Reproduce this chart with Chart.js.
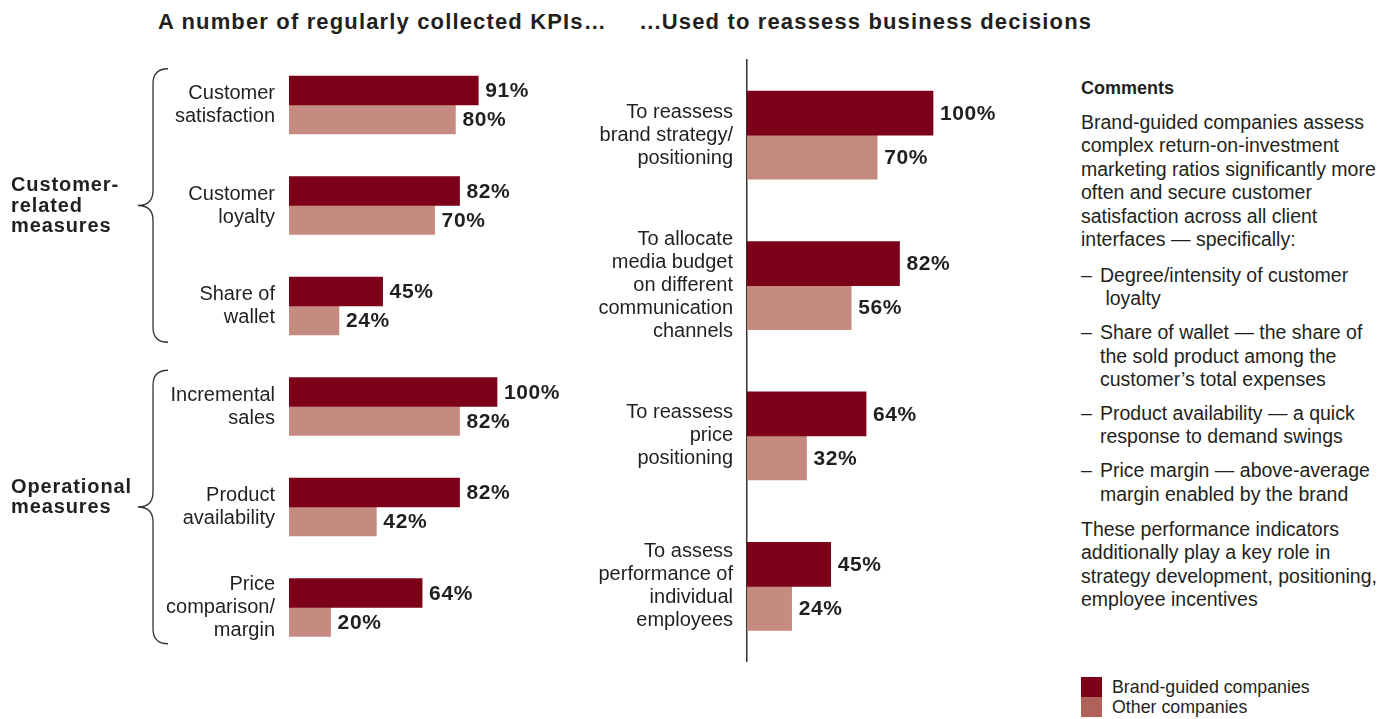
<!DOCTYPE html>
<html>
<head>
<meta charset="utf-8">
<script src="https://cdn.jsdelivr.net/npm/chart.js@4.4.0/dist/chart.umd.min.js"></script>
<style>
  body { margin: 0; width: 1399px; height: 719px; background: #fff; position: relative; overflow: hidden;
         font-family: "Liberation Sans", Arial, sans-serif; color: #231f20; }
  .title { position: absolute; top: 9px; font-weight: bold; font-size: 22px; letter-spacing: 1.15px; white-space: nowrap; }
  #leftBox { position: absolute; left: 0; top: 0; width: 590px; height: 719px; }
  #rightBox { position: absolute; left: 590px; top: 0; width: 470px; height: 719px; }
  #comments { position: absolute; left: 1081px; top: 77px; font-size: 19.5px; line-height: 23.4px; white-space: nowrap; }
  #comments .head { font-weight: bold; font-size: 18px; margin-bottom: 10.5px; }
  #comments .gap { margin-top: 12px; }
  #comments .bullet { display: flex; margin-top: 10.5px; }
  #comments .bullet.gap { margin-top: 12.5px; }
  #comments .bullet span:first-child { width: 19px; flex: none; }
  #legend { position: absolute; left: 1081px; top: 677px; font-size: 17.8px; }
  #legend .item { display: flex; align-items: center; height: 20px; }
  #legend .sw { width: 21px; height: 20px; margin-right: 10px; }
</style>
</head>
<body>
<div class="title" style="left:158px">A number of regularly collected KPIs…</div>
<div class="title" style="left:640px">...Used to reassess business decisions</div>
<div id="leftBox"><canvas id="kpiChart"></canvas></div>
<div id="rightBox"><canvas id="useChart"></canvas></div>
<div id="comments">
  <div class="head">Comments</div>
  <div>Brand-guided companies assess<br>complex return-on-investment<br>marketing ratios significantly more<br>often and secure customer<br>satisfaction across all client<br>interfaces — specifically:</div>
  <div class="bullet gap"><span>–</span><span>Degree/intensity of customer<br>&nbsp;loyalty</span></div>
  <div class="bullet"><span>–</span><span>Share of wallet — the share of<br>the sold product among the<br>customer’s total expenses</span></div>
  <div class="bullet"><span>–</span><span>Product availability — a quick<br>response to demand swings</span></div>
  <div class="bullet"><span>–</span><span>Price margin — above-average<br>margin enabled by the brand</span></div>
  <div class="gap">These performance indicators<br>additionally play a key role in<br>strategy development, positioning,<br>employee incentives</div>
</div>
<div id="legend"></div>
<script>
// left panel: KPIs collected
const kpiLabels = [['Customer', 'satisfaction'], ['Customer', 'loyalty'], ['Share of', 'wallet'],
                   ['Incremental', 'sales'], ['Product', 'availability'], ['Price', 'comparison/', 'margin']];
const kpiBrand = [91, 82, 45, 100, 82, 64];
const kpiOther = [80, 70, 24, 82, 42, 20];

// groups of KPIs shown with braces
const groupNames = [['Customer-', 'related', 'measures'], ['Operational', 'measures']];
const groupSizes = [3, 3];

// right panel: usage in decisions
const useLabels = [['To reassess', 'brand strategy/', 'positioning'],
                   ['To allocate', 'media budget', 'on different', 'communication', 'channels'],
                   ['To reassess', 'price', 'positioning'],
                   ['To assess', 'performance of', 'individual', 'employees']];
const useBrand = [100, 82, 64, 45];
const useOther = [70, 56, 32, 24];

const seriesNames = ['Brand-guided companies', 'Other companies'];
const barColors = ['#7d0019', '#c68b80'];
const legendColors = ['#7d0019', '#b0625a'];

const FONT = '"Liberation Sans", Arial, sans-serif';
const TEXT = '#231f20';

// percentage labels at the bar ends
const valueLabels = {
    id: 'valueLabels',
    afterDatasetsDraw(chart) {
        const ctx = chart.ctx;
        ctx.save();
        ctx.font = 'bold 21px ' + FONT;
        ctx.letterSpacing = '0.6px';
        ctx.fillStyle = TEXT;
        ctx.textAlign = 'left';
        ctx.textBaseline = 'middle';
        chart.data.datasets.forEach((ds, i) => {
            chart.getDatasetMeta(i).data.forEach((bar, j) => {
                ctx.fillText(ds.data[j] + '%', bar.x + 7, bar.y + 1);
            });
        });
        ctx.restore();
    }
};

// curly braces + group names on the left panel
const groupBraces = {
    id: 'groupBraces',
    afterDraw(chart) {
        const y = chart.scales.y;
        const ctx = chart.ctx;
        const step = y.getPixelForValue(1) - y.getPixelForValue(0);
        let start = 0;
        ctx.save();
        ctx.strokeStyle = '#333';
        ctx.lineWidth = 1.3;
        groupSizes.forEach((n, g) => {
            const first = y.getPixelForValue(start);
            const last = y.getPixelForValue(start + n - 1);
            const top = first - step / 2 + 14;
            const bot = last + step / 2 - 14;
            const mid = (first + last) / 2;
            ctx.beginPath();
            ctx.moveTo(168, top);
            ctx.quadraticCurveTo(153, top, 153, top + 15);
            ctx.lineTo(153, mid - 15);
            ctx.quadraticCurveTo(153, mid, 138, mid);
            ctx.quadraticCurveTo(153, mid, 153, mid + 15);
            ctx.lineTo(153, bot - 15);
            ctx.quadraticCurveTo(153, bot, 168, bot);
            ctx.stroke();

            ctx.font = 'bold 20px ' + FONT;
            ctx.letterSpacing = '0.9px';
            ctx.fillStyle = TEXT;
            ctx.textAlign = 'left';
            ctx.textBaseline = 'middle';
            groupNames[g].forEach((line, k) => ctx.fillText(line, 11, mid - 20 + k * 20.5));
            start += n;
        });
        ctx.restore();
    }
};

function makeChart(id, labels, brand, other, opts) {
    const ctx = document.getElementById(id).getContext('2d');
    return new Chart(ctx, {
        type: 'bar',
        data: {
            labels: labels,
            datasets: [
                { label: seriesNames[0], data: brand, backgroundColor: barColors[0], barThickness: opts.thickness },
                { label: seriesNames[1], data: other, backgroundColor: barColors[1], barThickness: opts.thickness }
            ]
        },
        options: {
            indexAxis: 'y',
            responsive: true,
            maintainAspectRatio: false,
            animation: false,
            layout: { padding: opts.padding },
            plugins: { legend: { display: false }, tooltip: { enabled: false } },
            scales: {
                x: { display: false, min: 0, max: 120 },
                y: {
                    grid: { display: false, drawTicks: false },
                    border: opts.border,
                    ticks: { color: TEXT, padding: 14, font: { family: FONT, size: 20, lineHeight: 1.15 } },
                    afterFit: (scale) => { scale.width = opts.axisWidth; }
                }
            }
        },
        plugins: opts.plugins
    });
}

makeChart('kpiChart', kpiLabels, kpiBrand, kpiOther, {
    thickness: 29,
    axisWidth: 289,
    padding: { top: 54.75, bottom: 61.25, left: 0, right: 51.4 },
    border: { display: false },
    plugins: [valueLabels, groupBraces]
});

makeChart('useChart', useLabels, useBrand, useOther, {
    thickness: 44,
    axisWidth: 157,
    padding: { top: 57.5, bottom: 57.5, left: 0, right: 89.8 },
    border: { display: true, color: '#333', width: 1.5 },
    plugins: [valueLabels]
});

// legend
const legend = document.getElementById('legend');
seriesNames.forEach((name, i) => {
    const item = document.createElement('div');
    item.className = 'item';
    item.innerHTML = '<div class="sw" style="background:' + legendColors[i] + '"></div><span>' + name + '</span>';
    legend.appendChild(item);
});
</script>
</body>
</html>
